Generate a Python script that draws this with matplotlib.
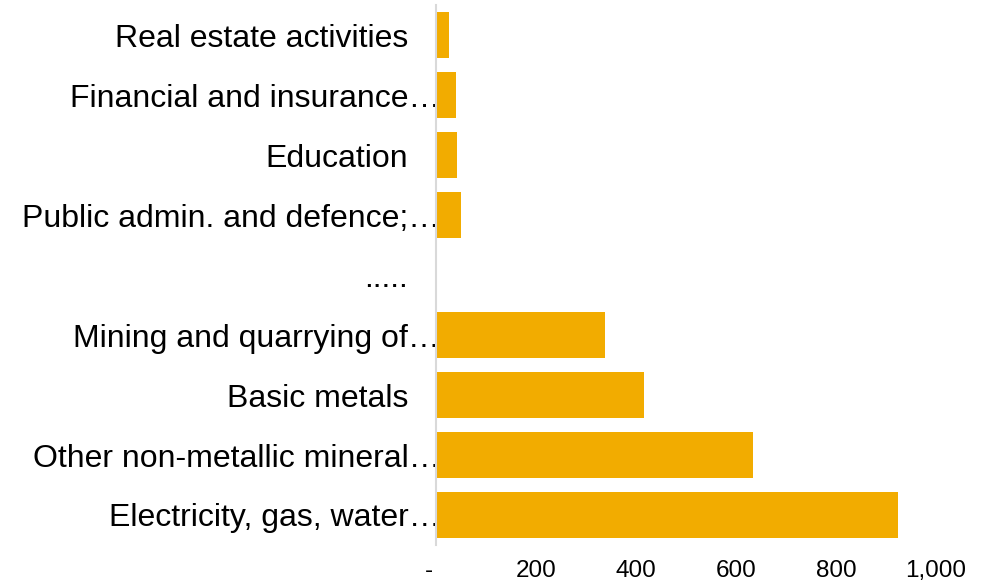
import matplotlib.pyplot as plt
import matplotlib.transforms as mtransforms
from matplotlib.ticker import FuncFormatter

plt.rcParams['font.family'] = ['Liberation Sans', 'DejaVu Sans']

# categories, top to bottom
categories = ['Real estate activities', 'Financial and insurance…', 'Education',
              'Public admin. and defence;…', '.....', 'Mining and quarrying of…',
              'Basic metals', 'Other non-metallic mineral…', 'Electricity, gas, water…']
values = [25, 39, 41, 50, 0, 338, 415, 633, 923]
xticks = [0, 200, 400, 600, 800, 1000]

BAR = '#F2AC00'

fig = plt.figure(figsize=(9.89, 5.81), dpi=100)
ax = fig.add_axes([0.441, 0.062, 0.5055, 0.929])

ypos = list(range(len(categories)))
ax.barh(ypos, values, height=0.77, color=BAR)
ax.set_ylim(len(categories) - 0.5, -0.5)
ax.set_xlim(0, 1000)

ax.set_yticks(ypos)
ax.set_yticklabels(categories, fontsize=23)
ax.set_xticks(xticks)
ax.xaxis.set_major_formatter(FuncFormatter(lambda v, p: '-  ' if v == 0 else f'{int(v):,}'))
ax.tick_params(axis='x', length=0, labelsize=17.5, pad=11)
ax.tick_params(axis='y', length=0, pad=20)

# truncated labels hang their ellipsis past the label column
shift = mtransforms.ScaledTranslation(32 / 100, 0, fig.dpi_scale_trans)
for lab in ax.get_yticklabels():
    if lab.get_text().endswith('…'):
        lab.set_transform(lab.get_transform() + shift)

for sp in ['top', 'right', 'bottom']:
    ax.spines[sp].set_visible(False)
ax.spines['left'].set_color('#d9d9d9')
ax.spines['left'].set_linewidth(1.5)

fig.savefig('out.png', dpi=100, facecolor='white')
